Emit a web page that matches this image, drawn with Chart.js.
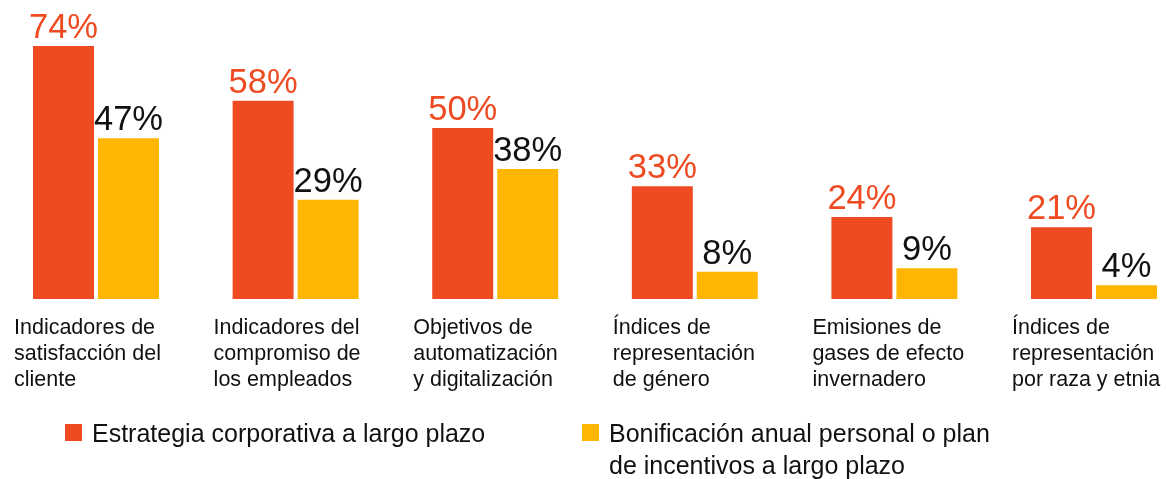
<!DOCTYPE html>
<html>
<head>
<meta charset="utf-8">
<script src="https://cdn.jsdelivr.net/npm/chart.js@4"></script>
<style>
  html, body { margin: 0; padding: 0; background: #fff; overflow: hidden; }
  #wrap { position: relative; width: 1166px; height: 479px; }
  #incentives { position: absolute; left: 0; top: 0; }
  .legend { position: absolute; top: 417px; font-family: 'Helvetica Neue', Arial, 'Liberation Sans', sans-serif;
            font-size: 25px; line-height: 32px; color: #111; }
  .legend .sq { position: absolute; left: 0; top: 7px; width: 17px; height: 17px; }
  .legend .txt { margin-left: 27px; }
</style>
</head>
<body>
<div id="wrap">
  <canvas id="incentives" width="1166" height="479"></canvas>
  <div class="legend" style="left:65px"><span class="sq" style="background:#EE4B22"></span><div class="txt">Estrategia corporativa a largo plazo</div></div>
  <div class="legend" style="left:582px"><span class="sq" style="background:#FFB600"></span><div class="txt">Bonificación anual personal o plan<br>de incentivos a largo plazo</div></div>
</div>
<script>
/* Métricas ESG en incentivos */

const categories = [
  ["Indicadores de", "satisfacción del", "cliente"],
  ["Indicadores del", "compromiso de", "los empleados"],
  ["Objetivos de", "automatización", "y digitalización"],
  ["Índices de", "representación", "de género"],
  ["Emisiones de", "gases de efecto", "invernadero"],
  ["Índices de", "representación", "por raza y etnia"]
];
const estrategia = [74, 58, 50, 33, 24, 21];
const bonificacion = [47, 29, 38, 8, 9, 4];

const RED = "#EE4B22";
const YELLOW = "#FFB600";
const FONT = "'Helvetica Neue', Arial, 'Liberation Sans', sans-serif";

// etiquetas de valor sobre cada barra
const valueLabels = {
  id: 'valueLabels',
  afterDatasetsDraw(chart) {
    const ctx = chart.ctx;
    ctx.save();
    ctx.font = "34.5px " + FONT;
    ctx.textAlign = 'center';
    ctx.textBaseline = 'alphabetic';
    chart.data.datasets.forEach((ds, i) => {
      const meta = chart.getDatasetMeta(i);
      ctx.fillStyle = ds.labelColor;
      meta.data.forEach((bar, j) => {
        ctx.fillText(ds.data[j] + "%", bar.x, bar.y - 8);
      });
    });
    ctx.restore();
  }
};

new Chart(document.getElementById("incentives"), {
  type: 'bar',
  data: {
    labels: categories,
    datasets: [
      {
        label: "Estrategia corporativa a largo plazo",
        data: estrategia,
        backgroundColor: RED,
        labelColor: RED,
        clip: false
      },
      {
        label: "Bonificación anual personal o plan de incentivos a largo plazo",
        data: bonificacion,
        backgroundColor: YELLOW,
        labelColor: "#111",
        clip: false
      }
    ]
  },
  options: {
    responsive: false,
    animation: false,
    events: [],
    categoryPercentage: 0.651,
    barPercentage: 0.9385,
    layout: { padding: { left: 96, right: 72, top: 25.5, bottom: 80 } },
    plugins: {
      legend: { display: false },
      tooltip: { enabled: false }
    },
    scales: {
      x: {
        offset: false,
        grid: { display: false, drawTicks: false },
        border: { display: false },
        ticks: {
          align: 'start',
          labelOffset: -82,
          padding: 16,
          autoSkip: false,
          maxRotation: 0,
          color: "#111",
          font: { family: FONT, size: 21.5, lineHeight: 1.21 }
        },
        afterFit(scale) {
          scale.height = 100;
          scale.paddingLeft = 0;
          scale.paddingRight = 0;
        }
      },
      y: {
        display: false,
        min: 0,
        max: 80
      }
    }
  },
  plugins: [valueLabels]
});
</script>
</body>
</html>
